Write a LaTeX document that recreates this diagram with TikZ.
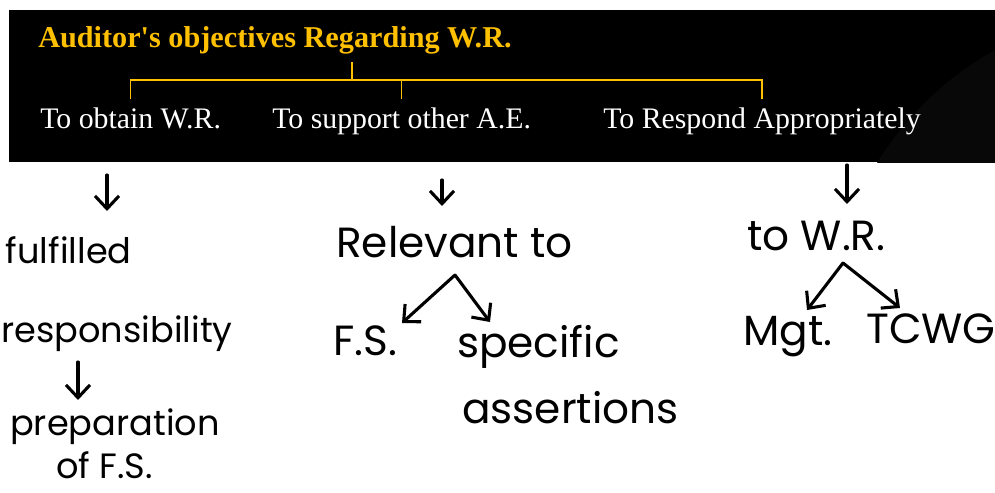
\documentclass[tikz,border=0pt]{standalone}
\usepackage{fontspec}
\setmainfont{Liberation Serif}
\newfontfamily\handfont{Poppins}
\usetikzlibrary{arrows.meta}
\definecolor{gold}{HTML}{FFC000}
\tikzstyle{heading} = [text=gold, font=\bfseries\fontsize{21.5}{26}\selectfont, inner sep=0pt]
\tikzstyle{aim} = [text=white, font=\fontsize{21.2}{25}\selectfont, inner sep=0pt]
\tikzstyle{note} = [font=\handfont\fontsize{30}{36}\selectfont, inner sep=0pt]
\tikzstyle{smallnote} = [note, font=\handfont\fontsize{25}{30}\selectfont]
\tikzstyle{bracket} = [draw=gold, line width=1.2pt]
\tikzstyle{hand} = [line width=2.2pt, line cap=round, -{Straight Barb[length=3.2mm, width=6mm, line width=2.2pt]}]

\begin{document}
\begin{tikzpicture}[x=0.025cm, y=-0.025cm]
	\useasboundingbox (0,0) rectangle (995,493);
	\fill[white] (0,0) rectangle (995,493);
	% banner
	\begin{scope}
		\clip (9,10) rectangle (995,162);
		\fill[black] (9,10) rectangle (995,162);
		\fill[black!97!white] (1150,330) circle (320);
	\end{scope}
	
	\node[heading, anchor=base west] (title) at (38,47) {Auditor\textquotesingle s objectives Regarding W.R.};
	\node[aim, anchor=base west] (obtain) at (40,128) {To obtain W.R.};
	\node[aim, anchor=base west] (support) at (272,128) {To support other A.E.};
	\node[aim, anchor=base west] (respond) at (603,128) {To Respond Appropriately};
	
	\draw[bracket] (352,62) -- (352,80);
	\draw[bracket] (obtain.north |- 0,99) |- (respond.north |- 0,80) -- (respond.north |- 0,99);
	\draw[bracket] (support.north |- 0,80) -- (support.north |- 0,99);
	
	% notes below
	\node[smallnote, anchor=base east] (fulfilled) at (132,263) {fulfilled};
	\node[smallnote, anchor=base east] (duty) at (233,342) {responsibility};
	\node[smallnote, anchor=base east] (prep) at (220,435) {preparation};
	\node[smallnote, anchor=base east] (offs) at (153,478) {of F.S.};
	
	\node[note, anchor=base west] (relevant) at (336,257) {Relevant to};
	\node[note, anchor=base west] (fs) at (333,355) {F.S.};
	\node[note, anchor=base west] (specific) at (457,357) {specific};
	\node[note, anchor=base west] (assert) at (462,423) {assertions};
	
	\node[note, anchor=base west] (towr) at (747,250) {to W.R.};
	\node[note, anchor=base west] (mgt) at (743,345) {Mgt.};
	\node[note, anchor=base west] (tcwg) at (866,343) {TCWG};
	
	\draw[hand] (obtain.base west) ++(67,47) -- ++(0,36);
	\draw[hand] (duty.base east) ++(-155,20) -- ++(0,38);
	
	\draw[hand] (support.base west) ++(170,52) -- ++(0,26);
	\draw[hand] (relevant.base west) ++(119,18) coordinate (relsplit) -- ++(-53,48);
	\draw[hand] (relsplit) -- ++(35,47);
	
	\draw[hand] (respond.base west) ++(244,37) -- ++(0,39);
	\draw[hand] (towr.base west) ++(96,13) coordinate (wrsplit) -- ++(-36,47);
	\draw[hand] (wrsplit) -- ++(57,45);
\end{tikzpicture}
\end{document}
